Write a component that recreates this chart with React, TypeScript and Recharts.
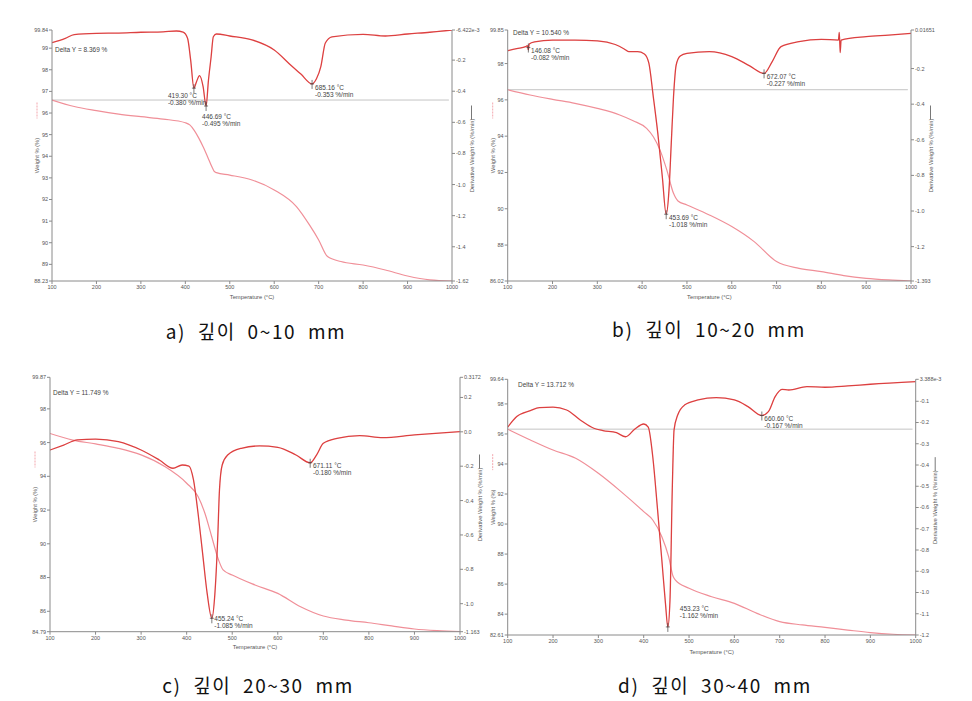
import React from 'react';
import { ComposedChart, Line, XAxis, YAxis, ReferenceLine, ReferenceDot } from 'recharts';

const tempTicks = [100, 200, 300, 400, 500, 600, 700, 800, 900, 1000];

// a) 0~10 mm
const tempAW = [100, 150, 200, 250, 300, 350, 400, 410, 420, 430, 440, 450, 460, 465, 470, 500, 550, 600, 650, 680, 700, 720, 750, 800, 850, 900, 950, 1000];
const weightA = [96.6, 96.3, 96.11, 95.95, 95.83, 95.72, 95.55, 95.45, 95.2, 94.85, 94.44, 93.98, 93.5, 93.3, 93.24, 93.13, 92.9, 92.44, 91.67, 90.8, 90.13, 89.36, 89.13, 88.97, 88.74, 88.46, 88.28, 88.23];
const tempAD = [100, 130, 150, 200, 250, 300, 350, 380, 395, 405, 412, 419.3, 425, 432, 440, 446.69, 452, 458, 463, 470, 500, 550, 600, 640, 660, 685.16, 695, 705, 715, 730, 800, 850, 900, 950, 1000];
const derivA = [-0.088, -0.06, -0.036, -0.028, -0.026, -0.021, -0.018, -0.013, -0.02, -0.06, -0.2, -0.38, -0.34, -0.3, -0.37, -0.495, -0.33, -0.18, -0.05, -0.032, -0.045, -0.07, -0.135, -0.24, -0.29, -0.353, -0.32, -0.24, -0.09, -0.05, -0.034, -0.045, -0.032, -0.021, -0.0064];
const weightTicksA = [88.23, 89, 90, 91, 92, 93, 94, 95, 96, 97, 98, 99, 99.84];
const derivTicksA = [-1.62, -1.4, -1.2, -1.0, -0.8, -0.6, -0.4, -0.2, -0.006422];
const derivLabelsA = ['-1.62', '-1.4', '-1.2', '-1.0', '-0.8', '-0.6', '-0.4', '-0.2', '-6.422e-3'];
const peaksA = [419.3, 446.69, 685.16];
const peakValsA = [-0.38, -0.495, -0.353];

// b) 10~20 mm
const tempBW = [100, 150, 200, 250, 300, 350, 380, 410, 425, 440, 455, 470, 480, 500, 550, 600, 650, 700, 750, 800, 850, 900, 950, 1000];
const weightB = [96.56, 96.27, 96.03, 95.81, 95.53, 95.17, 94.85, 94.43, 93.97, 93.23, 92.14, 90.85, 90.43, 90.21, 89.66, 89.02, 88.19, 87.09, 86.72, 86.54, 86.32, 86.17, 86.08, 86.02];
const tempBD = [100, 120, 140, 144, 146.08, 148, 160, 200, 250, 300, 340, 360, 370, 390, 405, 415, 425, 435, 445, 453.69, 460, 465, 470, 476, 485, 500, 550, 600, 640, 672.07, 690, 710, 750, 800, 838, 840, 842, 844, 900, 950, 1000];
const derivB = [-0.1, -0.088, -0.077, -0.072, -0.095, -0.062, -0.05, -0.04, -0.04, -0.044, -0.065, -0.09, -0.105, -0.105, -0.118, -0.17, -0.36, -0.564, -0.807, -1.018, -0.88, -0.62, -0.36, -0.18, -0.13, -0.115, -0.105, -0.133, -0.185, -0.227, -0.162, -0.077, -0.049, -0.036, -0.04, 0.003, -0.11, -0.04, -0.021, -0.012, -0.002];
const weightTicksB = [86.02, 88, 90, 92, 94, 96, 98, 99.85];
const derivTicksB = [-1.393, -1.2, -1.0, -0.8, -0.6, -0.4, -0.2, 0.01651];
const derivLabelsB = ['-1.393', '-1.2', '-1.0', '-0.8', '-0.6', '-0.4', '-0.2', '0.01651'];
const peaksB = [146.08, 453.69, 672.07];
const peakValsB = [-0.082, -1.018, -0.227];

// c) 20~30 mm
const tempCW = [100, 150, 200, 250, 300, 350, 400, 425, 440, 455, 470, 480, 500, 550, 600, 650, 700, 750, 800, 850, 900, 950, 1000];
const weightC = [96.54, 96.15, 95.92, 95.66, 95.27, 94.61, 93.59, 92.8, 91.81, 90.42, 89.04, 88.45, 88.15, 87.56, 87.06, 86.27, 85.72, 85.48, 85.32, 85.13, 84.95, 84.85, 84.79];
const tempCD = [100, 130, 160, 200, 250, 300, 340, 370, 390, 405, 415, 425, 435, 445, 455.24, 462, 468, 472, 478, 490, 520, 560, 600, 640, 671.11, 685, 700, 730, 780, 830, 900, 1000];
const derivC = [-0.106, -0.077, -0.047, -0.042, -0.057, -0.106, -0.164, -0.212, -0.193, -0.199, -0.28, -0.474, -0.707, -0.94, -1.085, -0.94, -0.63, -0.339, -0.193, -0.135, -0.096, -0.082, -0.09, -0.135, -0.18, -0.135, -0.067, -0.038, -0.022, -0.034, -0.018, 0.001];
const weightTicksC = [84.79, 86, 88, 90, 92, 94, 96, 98, 99.87];
const derivTicksC = [-1.163, -1.0, -0.8, -0.6, -0.4, -0.2, 0.0, 0.2, 0.3172];
const derivLabelsC = ['-1.163', '-1.0', '-0.8', '-0.6', '-0.4', '-0.2', '0.0', '0.2', '0.3172'];
const peaksC = [671.11, 455.24];
const peakValsC = [-0.18, -1.085];

// d) 30~40 mm
const tempDW = [100, 150, 200, 250, 300, 350, 400, 420, 440, 455, 465, 470, 500, 550, 600, 650, 700, 750, 800, 850, 900, 950, 1000];
const weightD = [96.32, 95.6, 94.93, 94.38, 93.38, 92.16, 90.83, 90.27, 89.16, 87.83, 86.5, 86.27, 85.72, 85.16, 84.72, 84.05, 83.5, 83.28, 83.12, 82.94, 82.77, 82.66, 82.61];
const tempDD = [100, 120, 150, 170, 200, 230, 260, 290, 310, 340, 360, 380, 400, 410, 420, 430, 440, 448, 453.23, 458, 463, 467, 475, 490, 520, 560, 600, 630, 660.6, 675, 690, 705, 720, 760, 800, 850, 900, 1000];
const derivD = [-0.222, -0.172, -0.144, -0.13, -0.128, -0.141, -0.188, -0.227, -0.238, -0.248, -0.267, -0.232, -0.207, -0.222, -0.361, -0.596, -0.847, -1.051, -1.162, -1.036, -0.517, -0.235, -0.165, -0.118, -0.094, -0.083, -0.094, -0.125, -0.167, -0.149, -0.078, -0.044, -0.047, -0.031, -0.034, -0.028, -0.02, -0.008];
const weightTicksD = [82.61, 84, 86, 88, 90, 92, 94, 96, 98, 99.64];
const derivTicksD = [-1.2, -1.1, -1.0, -0.9, -0.8, -0.7, -0.6, -0.5, -0.4, -0.3, -0.2, -0.1, 0.003388];
const derivLabelsD = ['-1.2', '-1.1', '-1.0', '-0.9', '-0.8', '-0.7', '-0.6', '-0.5', '-0.4', '-0.3', '-0.2', '-0.1', '3.388e-3'];
const peaksD = [660.6, 453.23];
const peakValsD = [-0.167, -1.162];

const deltas = ['8.369', '10.540', '11.749', '13.712'];
const captions = ['a)  깊이  0~10  mm', 'b)  깊이  10~20  mm', 'c)  깊이  20~30  mm', 'd)  깊이  30~40  mm'];

const zip = (t: number[], v: number[]) => t.map((x, i) => ({ t: x, v: v[i] }));
const fmt = (n: number) => n.toFixed(2);

const FONT = '"Liberation Sans", Arial, sans-serif';
const AXIS = '#8a8a8a';
const TXT = '#555';
const WCOL = '#f08f98';
const DCOL = '#e84444';

const LeftTitle = (props: any) => {
  const vb = props.viewBox;
  const cx = vb.x + vb.width - 15;
  const cy = vb.y + vb.height / 2;
  return (
    <g>
      <text transform={`translate(${cx},${cy}) rotate(-90)`} textAnchor="middle" dominantBaseline="central" fontSize={5.8} fill={TXT} fontFamily={FONT}>
        Weight % (%)
      </text>
      <line x1={cx} x2={cx} y1={cy - 53} y2={cy - 37} stroke={WCOL} strokeWidth={0.8} strokeDasharray="2 1" />
    </g>
  );
};

const RightTitle = (props: any) => {
  const vb = props.viewBox;
  const cx = vb.x + 19.5;
  const cy = vb.y + vb.height / 2;
  return (
    <g>
      <text transform={`translate(${cx},${cy}) rotate(-90)`} textAnchor="middle" dominantBaseline="central" fontSize={5.8} fill={TXT} fontFamily={FONT}>
        Derivative Weight % (%/min)
      </text>
      <line x1={cx} x2={cx} y1={cy - 50} y2={cy - 36} stroke="#555" strokeWidth={0.8} />
    </g>
  );
};

const peakShape = (t: number, d: number, dx: number, dy: number) => (p: any) => (
  <g>
    <line x1={p.cx} x2={p.cx} y1={p.cy - 4} y2={p.cy + 5} stroke="#444" strokeWidth={0.7} />
    <line x1={p.cx - 2} x2={p.cx + 2} y1={p.cy} y2={p.cy} stroke="#444" strokeWidth={0.7} />
    <text x={p.cx + dx} y={p.cy + dy} fontSize={6.5} fill="#444" fontFamily={FONT} dominantBaseline="central">
      {fmt(t)} °C
    </text>
    <text x={p.cx + dx} y={p.cy + dy + 7} fontSize={6.5} fill="#444" fontFamily={FONT} dominantBaseline="central">
      {d.toFixed(3)} %/min
    </text>
  </g>
);

type PanelProps = {
  box: { left: number; top: number; width: number; height: number };
  mt: number; lw: number; rw: number; xh: number;
  weight: { t: number; v: number }[];
  deriv: { t: number; v: number }[];
  wTicks: number[];
  dTicks: number[];
  dLabels: string[];
  peaks: number[];
  peakVals: number[];
  offsets: number[][];
  refLine: boolean;
};

const Panel = (p: PanelProps) => {
  const wDom = [p.wTicks[0], p.wTicks[p.wTicks.length - 1]];
  const dDom = [p.dTicks[0], p.dTicks[p.dTicks.length - 1]];
  const tickStyle = { fontSize: 5.5, fill: TXT, fontFamily: FONT };
  return (
    <div style={{ position: 'absolute', left: p.box.left, top: p.box.top }}>
      <ComposedChart width={p.box.width} height={p.box.height} margin={{ top: p.mt, right: 0, bottom: 0, left: 0 }}>
        <XAxis
          type="number" dataKey="t" domain={[100, 1000]} ticks={tempTicks} allowDataOverflow interval={0}
          height={p.xh} tick={tickStyle} tickSize={3} tickMargin={1} stroke={AXIS}
          label={{ value: 'Temperature (°C)', position: 'insideBottom', offset: 1, fontSize: 5.8, fill: TXT, fontFamily: FONT }}
        />
        <YAxis
          yAxisId="w" orientation="left" type="number" domain={wDom} ticks={p.wTicks} allowDataOverflow interval={0}
          width={p.lw} tick={tickStyle} tickSize={3} tickMargin={1} stroke={AXIS}
          tickFormatter={(v: number) => (Number.isInteger(v) ? String(v) : v.toFixed(2))}
          label={<LeftTitle />}
        />
        <YAxis
          yAxisId="d" orientation="right" type="number" domain={dDom} ticks={p.dTicks} allowDataOverflow interval={0}
          width={p.rw} tick={{ ...tickStyle, textAnchor: 'start' }} tickSize={3} tickMargin={1} stroke={AXIS}
          tickFormatter={(v: number) => p.dLabels[p.dTicks.indexOf(v)] ?? String(v)}
          label={<RightTitle />}
        />
        {p.refLine && (
          <ReferenceLine yAxisId="w" segment={[{ x: 100, y: p.weight[0].v }, { x: 993, y: p.weight[0].v }]} stroke="#b5b5b5" strokeWidth={0.8} />
        )}
        <Line yAxisId="w" data={p.weight} dataKey="v" type="monotone" stroke={WCOL} strokeWidth={1.2} dot={false} isAnimationActive={false} />
        <Line yAxisId="d" data={p.deriv} dataKey="v" type="monotone" stroke={DCOL} strokeWidth={1.3} dot={false} isAnimationActive={false} />
        <Line yAxisId="d" data={p.deriv} dataKey="v" type="monotone" stroke="#5a2a2a" strokeOpacity={0.25} strokeWidth={0.4} dot={false} isAnimationActive={false} />
        {p.peaks.map((t, i) => (
          <ReferenceDot key={i} yAxisId="d" x={t} y={p.peakVals[i]} r={0}
            shape={peakShape(t, p.peakVals[i], p.offsets[i][0], p.offsets[i][1])} />
        ))}
      </ComposedChart>
    </div>
  );
};

const deltaPos = [[55, 50], [513, 33], [53, 393], [518, 385]];
const captionPos = [[256, 331], [709, 329], [258, 685], [715, 685]];

export default function App() {
  return (
    <div style={{ position: 'absolute', left: 0, top: 0, width: 972, height: 701, background: '#fff', overflow: 'hidden' }}>
      <Panel box={{ left: 0, top: 0, width: 485, height: 300 }} mt={30} lw={52} rw={33} xh={19}
        weight={zip(tempAW, weightA)} deriv={zip(tempAD, derivA)} wTicks={weightTicksA}
        dTicks={derivTicksA} dLabels={derivLabelsA} peaks={peaksA} peakVals={peakValsA}
        offsets={[[-26, 7.6], [-4, 10.7], [3, 3.3]]} refLine />
      <Panel box={{ left: 480, top: 0, width: 492, height: 300 }} mt={30} lw={27.7} rw={61} xh={19}
        weight={zip(tempBW, weightB)} deriv={zip(tempBD, derivB)} wTicks={weightTicksB}
        dTicks={derivTicksB} dLabels={derivLabelsB} peaks={peaksB} peakVals={peakValsB}
        offsets={[[2.7, 3.2], [2.8, 3.1], [2.7, 2.9]]} refLine />
      <Panel box={{ left: 0, top: 340, width: 495, height: 310 }} mt={37.3} lw={50} rw={35} xh={18.3}
        weight={zip(tempCW, weightC)} deriv={zip(tempCD, derivC)} wTicks={weightTicksC}
        dTicks={derivTicksC} dLabels={derivLabelsC} peaks={peaksC} peakVals={peakValsC}
        offsets={[[2.8, 2.3], [2.5, 0]]} refLine={false} />
      <Panel box={{ left: 480, top: 340, width: 492, height: 315 }} mt={39.3} lw={27.7} rw={56.3} xh={20}
        weight={zip(tempDW, weightD)} deriv={zip(tempDD, derivD)} wTicks={weightTicksD}
        dTicks={derivTicksD} dLabels={derivLabelsD} peaks={peaksD} peakVals={peakValsD}
        offsets={[[2.5, 3.2], [12, -18]]} refLine />
      {deltas.map((d, i) => (
        <div key={'d' + i} style={{ position: 'absolute', left: deltaPos[i][0], top: deltaPos[i][1] - 4, fontSize: 6.5, lineHeight: '8px', color: '#444', fontFamily: FONT, whiteSpace: 'pre' }}>
          {`Delta Y = ${d} %`}
        </div>
      ))}
      {captions.map((c, i) => (
        <div key={'c' + i} style={{ position: 'absolute', left: captionPos[i][0] - 150, top: captionPos[i][1] - 13, width: 300, textAlign: 'center', fontSize: 19, lineHeight: '26px', color: '#111', fontFamily: '"Noto Sans CJK KR", sans-serif', whiteSpace: 'pre', letterSpacing: 1.6 }}>
          {c}
        </div>
      ))}
    </div>
  );
}
